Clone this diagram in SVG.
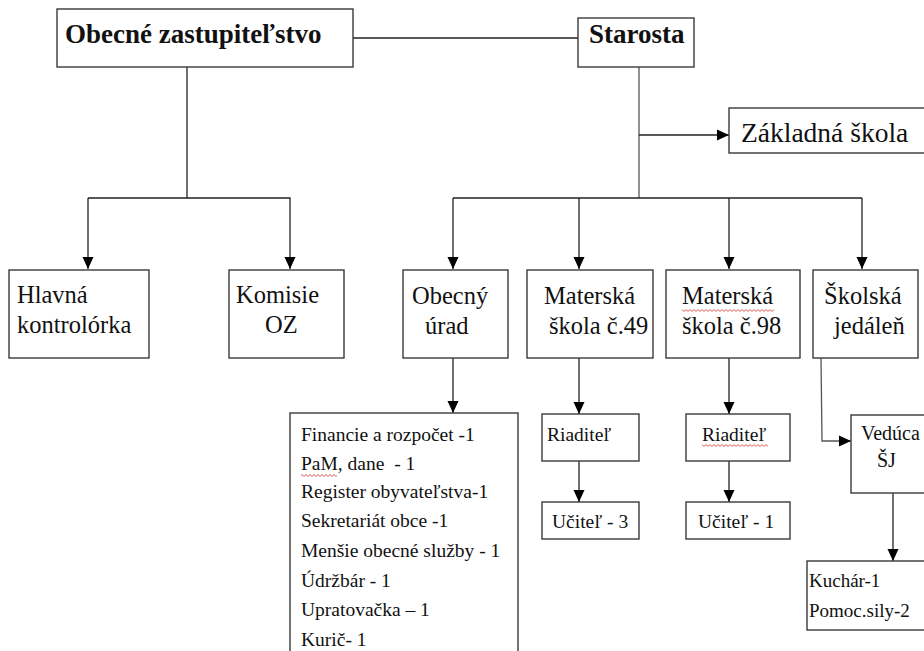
<svg xmlns="http://www.w3.org/2000/svg" width="924" height="651" viewBox="0 0 924 651" font-family="'Liberation Serif','Times New Roman',serif">
<style>
.box{fill:#fff;stroke:#3a3a3a;stroke-width:1.4}
.c{fill:none;stroke:#222;stroke-width:1.3}
.cg{fill:none;stroke:#555;stroke-width:1.3}
text{font-family:"Liberation Serif","Times New Roman",serif;fill:#111}
.b{font-weight:bold;font-size:27px}
.m{font-size:24.5px}
.s{font-size:19.5px}
.sq{fill:url(#squig)}
</style>
<defs>
<marker id="ah" markerUnits="userSpaceOnUse" markerWidth="12" markerHeight="12" refX="12" refY="6" orient="auto">
<path d="M0,0.5 L12,6 L0,11.5 z" fill="#000"/>
</marker>
<pattern id="squig" patternUnits="userSpaceOnUse" width="4" height="3">
<path d="M0,2.4 L2,0.6 L4,2.4" fill="none" stroke="#e03030" stroke-width="0.8"/>
</pattern>
</defs>

<g id="connectors">
<line class="c" x1="353" y1="38" x2="578" y2="38"/>
<line class="c" x1="187" y1="67" x2="187" y2="198"/>
<polyline class="c" points="88,198 290,198 290,269" marker-end="url(#ah)"/>
<line class="c" x1="88" y1="198" x2="88" y2="269" marker-end="url(#ah)"/>
<line class="cg" x1="639" y1="67" x2="639" y2="198"/>
<line class="c" x1="639" y1="135" x2="729" y2="135" marker-end="url(#ah)"/>
<line class="c" x1="453" y1="198" x2="862" y2="198"/>
<line class="c" x1="453" y1="198" x2="453" y2="269" marker-end="url(#ah)"/>
<line class="c" x1="579" y1="198" x2="579" y2="269" marker-end="url(#ah)"/>
<line class="c" x1="729" y1="198" x2="729" y2="269" marker-end="url(#ah)"/>
<line class="c" x1="862" y1="198" x2="862" y2="269" marker-end="url(#ah)"/>
<line class="c" x1="453" y1="358" x2="453" y2="413" marker-end="url(#ah)"/>
<line class="c" x1="579" y1="358" x2="579" y2="414" marker-end="url(#ah)"/>
<line class="c" x1="729" y1="358" x2="729" y2="414" marker-end="url(#ah)"/>
<line class="c" x1="579" y1="461" x2="579" y2="502" marker-end="url(#ah)"/>
<line class="c" x1="729" y1="461" x2="729" y2="502" marker-end="url(#ah)"/>
<polyline class="cg" points="821,358 822,441 851,441" marker-end="url(#ah)"/>
<line class="c" x1="893" y1="493" x2="893" y2="561" marker-end="url(#ah)"/>
</g>

<g id="obecne-zastupitelstvo">
<rect class="box" x="57" y="9" width="296" height="58"/>
<text class="b" x="65" y="43">Obecné zastupiteľstvo</text>
</g>
<g id="starosta">
<rect class="box" x="578" y="18" width="116" height="49"/>
<text class="b" x="589" y="43">Starosta</text>
</g>
<g id="zakladna-skola">
<rect class="box" x="729" y="108" width="205" height="45"/>
<text x="741" y="142" style="font-size:27.5px">Základná škola</text>
</g>
<g id="hlavna-kontrolorka">
<rect class="box" x="9" y="270" width="140" height="88"/>
<text class="m" x="17" y="303">Hlavná</text>
<text class="m" x="17" y="333">kontrolórka</text>
</g>
<g id="komisie-oz">
<rect class="box" x="229" y="270" width="115" height="88"/>
<text class="m" x="236" y="303">Komisie</text>
<text class="m" x="265" y="333">OZ</text>
</g>
<g id="obecny-urad">
<rect class="box" x="403" y="270" width="105" height="88"/>
<text class="m" x="412" y="304">Obecný</text>
<text class="m" x="425" y="334">úrad</text>
</g>
<g id="materska-skola-49">
<rect class="box" x="527" y="270" width="126" height="88"/>
<text class="m" x="544" y="304">Materská</text>
<text class="m" x="549" y="334">škola č.49</text>
</g>
<g id="materska-skola-98">
<rect class="box" x="666" y="270" width="134" height="88"/>
<text class="m" x="682" y="304">Materská</text>
<rect class="sq" x="682" y="309" width="92" height="3"/>
<text class="m" x="682" y="334">škola č.98</text>
</g>
<g id="skolska-jedalen">
<rect class="box" x="813" y="270" width="105" height="88"/>
<text class="m" x="824" y="304">Školská</text>
<text class="m" x="834" y="334">jedáleň</text>
</g>
<g id="obecny-urad-zoznam">
<rect class="box" x="290" y="413" width="228" height="250"/>
<text class="s" x="301" y="441">Financie a rozpočet -1</text>
<text class="s" x="301" y="470" xml:space="preserve">PaM, dane  - 1</text>
<rect class="sq" x="301" y="474" width="36" height="3"/>
<text class="s" x="301" y="498">Register obyvateľstva-1</text>
<text class="s" x="301" y="527">Sekretariát obce -1</text>
<text class="s" x="301" y="557">Menšie obecné služby - 1</text>
<text class="s" x="301" y="587">Údržbár - 1</text>
<text class="s" x="301" y="616">Upratovačka – 1</text>
<text class="s" x="301" y="646">Kurič- 1</text>
</g>
<g id="riaditel-49">
<rect class="box" x="542" y="414" width="97" height="47"/>
<text class="s" x="547" y="441">Riaditeľ</text>
</g>
<g id="ucitel-3">
<rect class="box" x="542" y="502" width="97" height="37"/>
<text class="s" x="552" y="528">Učiteľ - 3</text>
</g>
<g id="riaditel-98">
<rect class="box" x="686" y="414" width="104" height="47"/>
<text class="s" x="702" y="441">Riaditeľ</text>
<rect class="sq" x="702" y="444" width="66" height="3"/>
</g>
<g id="ucitel-1">
<rect class="box" x="686" y="502" width="104" height="37"/>
<text class="s" x="698" y="528">Učiteľ - 1</text>
</g>
<g id="veduca-sj">
<rect class="box" x="851" y="415" width="90" height="78"/>
<text x="861" y="440" style="font-size:20px">Vedúca</text>
<text x="877" y="467" style="font-size:20px">ŠJ</text>
</g>
<g id="kuchar">
<rect class="box" x="807" y="561" width="130" height="69"/>
<text class="s" x="809" y="587" style="font-size:19px">Kuchár-1</text>
<text class="s" x="809" y="617" style="font-size:19px">Pomoc.sily-2</text>
</g>
</svg>
